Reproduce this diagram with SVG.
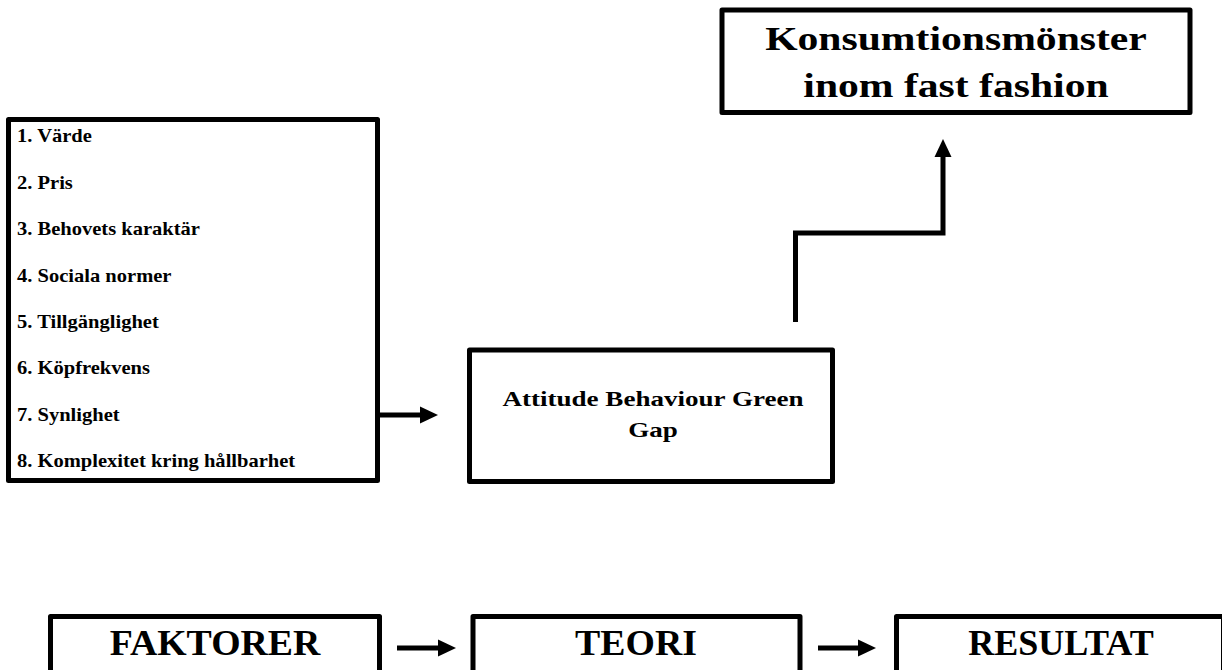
<svg xmlns="http://www.w3.org/2000/svg" width="1222" height="670" viewBox="0 0 1222 670">
<defs>
<style>
.box{fill:#fff;stroke:#000;stroke-width:5;stroke-linejoin:round}
.t{font-family:"Liberation Serif","Times New Roman",serif;font-weight:bold;fill:#000}
.item{font-size:18.5px}
.mid{font-size:22px;text-anchor:middle}
.top{font-size:34px;text-anchor:middle}
.big{font-size:36px;text-anchor:middle}
.line{fill:none;stroke:#000;stroke-width:5}
</style>
<marker id="ah" markerUnits="userSpaceOnUse" markerWidth="20" markerHeight="20" viewBox="0 0 20 20" refX="0" refY="10" orient="auto">
<path d="M0,1.5 L18,10 L0,18.5 Z" fill="#000"/>
</marker>
</defs>
<rect width="1222" height="670" fill="#fff"/>
<g id="faktorlista">
<rect class="box" x="8.5" y="119.5" width="369" height="361"/>
<g transform="translate(17,0) scale(1.11,1) translate(-17,0)">
<text class="t item" x="17" y="142">1. Värde</text>
<text class="t item" x="17" y="189">2. Pris</text>
<text class="t item" x="17" y="235">3. Behovets karaktär</text>
<text class="t item" x="17" y="282">4. Sociala normer</text>
<text class="t item" x="17" y="328">5. Tillgänglighet</text>
<text class="t item" x="17" y="374">6. Köpfrekvens</text>
<text class="t item" x="17" y="421">7. Synlighet</text>
<text class="t item" x="17" y="467">8. Komplexitet kring hållbarhet</text>
</g>
</g>
<g id="abgg">
<rect class="box" x="469.5" y="350" width="363" height="131.5"/>
<g transform="translate(653,0) scale(1.23,1) translate(-653,0)">
<text class="t mid" x="653" y="406">Attitude Behaviour Green</text>
<text class="t mid" x="653" y="437">Gap</text>
</g>
</g>
<g id="konsumtion">
<rect class="box" x="722" y="10" width="468" height="102.5"/>
<g transform="translate(956,0) scale(1.225,1) translate(-956,0)">
<text class="t top" x="956" y="50">Konsumtionsmönster</text>
<text class="t top" x="956" y="97">inom fast fashion</text>
</g>
</g>
<g id="faktorer">
<rect class="box" x="50.5" y="616.5" width="329" height="80"/>
<text class="t big" x="215" y="655" transform="translate(215,0) scale(1.05,1) translate(-215,0)">FAKTORER</text>
</g>
<g id="teori">
<rect class="box" x="473" y="616.5" width="327" height="80"/>
<text class="t big" x="636" y="655" transform="translate(636,0) scale(1.05,1) translate(-636,0)">TEORI</text>
</g>
<g id="resultat">
<rect class="box" x="896.5" y="616.5" width="327" height="80"/>
<text class="t big" x="1061" y="655">RESULTAT</text>
</g>
<g id="connectors">
<line class="line" x1="380" y1="415" x2="420" y2="415" marker-end="url(#ah)"/>
<polyline class="line" points="795.5,322 795.5,233 943,233 943,157" marker-end="url(#ah)"/>
<line class="line" x1="397" y1="648" x2="438" y2="648" marker-end="url(#ah)"/>
<line class="line" x1="818" y1="648" x2="858" y2="648" marker-end="url(#ah)"/>
</g>
</svg>
